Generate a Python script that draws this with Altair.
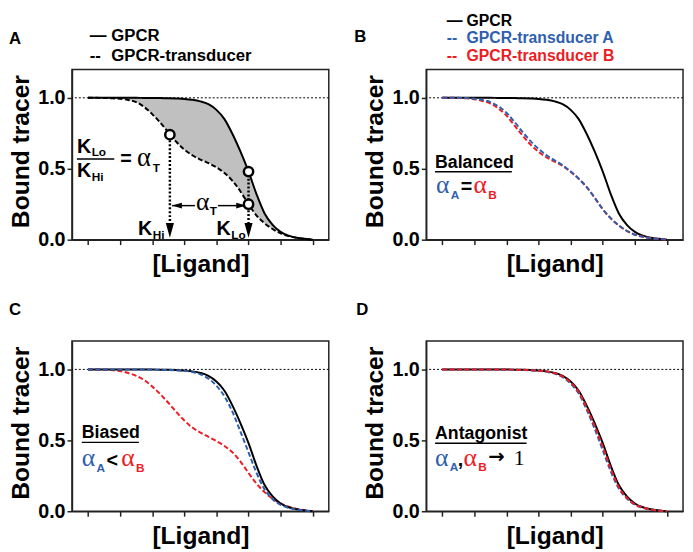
import altair as alt
import pandas as pd

# ---------------- data ----------------
LIGAND = [0, 0.25, 0.5, 0.75, 1, 1.25, 1.5, 1.75, 2, 2.25, 2.5, 2.75, 3, 3.25, 3.5,
          3.75, 4, 4.25, 4.5, 4.75, 5, 5.25, 5.5, 5.75, 6, 6.25, 6.5, 6.75, 7]

GPCR = [1.0, 1.0, 1.0, 1.0, 1.0, 1.0, 1.0, 0.999, 0.999, 0.998, 0.997, 0.995, 0.992, 0.986, 0.975,
        0.955, 0.915, 0.85, 0.745, 0.62, 0.48, 0.32, 0.185, 0.105, 0.055, 0.028, 0.014, 0.006, 0.0]

A_TRANSDUCER = [1.0, 1.0, 0.999, 0.997, 0.993, 0.985, 0.97, 0.935, 0.885, 0.825, 0.757, 0.69, 0.635, 0.595, 0.565,
                0.54, 0.51, 0.47, 0.415, 0.34, 0.25, 0.17, 0.115, 0.075, 0.045, 0.025, 0.013, 0.006, 0.0]

B_TRANS_A = [1.0, 1.0, 1.0, 0.998, 0.994, 0.985, 0.97, 0.94, 0.895, 0.83, 0.76, 0.695, 0.64, 0.595, 0.56,
             0.525, 0.48, 0.43, 0.37, 0.295, 0.215, 0.15, 0.1, 0.062, 0.035, 0.02, 0.011, 0.005, 0.0]
B_TRANS_B = [1.0, 1.0, 0.999, 0.996, 0.99, 0.978, 0.96, 0.925, 0.875, 0.805, 0.735, 0.67, 0.62, 0.58, 0.55,
             0.52, 0.478, 0.43, 0.37, 0.295, 0.215, 0.15, 0.1, 0.062, 0.035, 0.02, 0.011, 0.005, 0.0]

C_TRANS_A = [1.0, 1.0, 1.0, 1.0, 1.0, 1.0, 1.0, 0.999, 0.998, 0.997, 0.996, 0.994, 0.99, 0.982, 0.965,
             0.935, 0.885, 0.81, 0.70, 0.56, 0.415, 0.27, 0.155, 0.085, 0.045, 0.024, 0.012, 0.005, 0.0]
C_TRANS_B = [1.0, 1.0, 0.998, 0.995, 0.988, 0.975, 0.955, 0.925, 0.88, 0.825, 0.765, 0.70, 0.64, 0.59, 0.555,
             0.525, 0.495, 0.46, 0.415, 0.35, 0.27, 0.195, 0.135, 0.088, 0.055, 0.032, 0.017, 0.007, 0.0]

D_TRANS_A = [1.0, 1.0, 1.0, 1.0, 1.0, 1.0, 1.0, 0.999, 0.998, 0.997, 0.996, 0.994, 0.99, 0.983, 0.97,
             0.945, 0.9, 0.83, 0.715, 0.58, 0.43, 0.28, 0.16, 0.09, 0.046, 0.024, 0.012, 0.005, 0.0]
D_TRANS_B = [1.0, 1.0, 1.0, 1.0, 1.0, 1.0, 1.0, 0.999, 0.999, 0.998, 0.997, 0.995, 0.991, 0.985, 0.973,
             0.95, 0.908, 0.842, 0.73, 0.6, 0.455, 0.3, 0.17, 0.095, 0.048, 0.025, 0.013, 0.005, 0.0]

# K values and marked points in panel A
K_HI = 2.55
K_LO = 5.0
CIRCLE_X = [K_HI, K_LO, K_LO]
CIRCLE_Y = [0.74, 0.48, 0.25]

X_TICKS = [0, 1, 2, 3, 4, 5, 6, 7]
Y_TICKS = [0.0, 0.5, 1.0]

# ---------------- styling ----------------
FONT = "Liberation Sans"
SERIF = "Liberation Serif"
BLUE = "#2f5fae"
RED = "#ed1c24"
GRAY = "#c0c0c0"
W, H = 261, 173

xs = alt.Scale(domain=[-0.5, 7.5], nice=False, zero=False)
ys = alt.Scale(domain=[0, 1.2], nice=False, zero=False)

x_axis = alt.Axis(values=X_TICKS, labels=False, ticks=True, grid=False, title="[Ligand]",
                  titleFontSize=25, titleFontWeight="bold", titlePadding=7, domain=True)
y_axis = alt.Axis(values=Y_TICKS, format=".1f", grid=False, title="Bound tracer",
                  labelFontSize=20, labelFontWeight="bold", labelPadding=2, labelFlush=False,
                  titleFontSize=25, titleFontWeight="bold", titleAngle=270, titleBaseline="top",
                  titleAlign="center", titleX=-64, titleY=83)


def X(f="x"):
    return alt.X(f"{f}:Q", scale=xs, axis=x_axis)


def Y(f="y"):
    return alt.Y(f"{f}:Q", scale=ys, axis=y_axis)


def curve(values, color, dash=None, width=2.0):
    df = pd.DataFrame({"x": LIGAND, "y": values})
    kw = dict(interpolate="monotone", color=color, strokeWidth=width)
    if dash:
        kw["strokeDash"] = dash
    return alt.Chart(df).mark_line(**kw).encode(x=X(), y=Y())


def ref_line():
    return alt.Chart(pd.DataFrame({"y": [1.0]})).mark_rule(
        strokeDash=[2, 2], strokeWidth=1, color="black").encode(y=Y())


def txt(s, x, y, size=18, color="black", weight="bold", font=FONT, align="left", baseline="alphabetic"):
    return alt.Chart(pd.DataFrame({"t": [s]})).mark_text(
        fontSize=size, color=color, fontWeight=weight, font=font, align=align, baseline=baseline
    ).encode(x=alt.value(x), y=alt.value(y), text="t:N")


def hline(x1, x2, y, width=1.5):
    return alt.Chart(pd.DataFrame({"a": [0]})).mark_rule(color="black", strokeWidth=width).encode(
        x=alt.value(x1), x2=alt.value(x2), y=alt.value(y))


def alpha(x, y, color, sub, sub_dx=15, sub_dy=6, size=26):
    return [txt("α", x, y, size=size, color=color, weight="normal", font=SERIF),
            txt(sub, x + sub_dx, y + sub_dy, size=12, color=color)]


DASH_K = [5, 2.5]
DASH_C = [5, 2.5]

# ---------------- Panel A ----------------
area_df = pd.DataFrame({"x": LIGAND, "lo": A_TRANSDUCER, "hi": GPCR})
areaA = alt.Chart(area_df).mark_area(interpolate="monotone", color=GRAY, opacity=1).encode(
    x=X(), y=Y("lo"), y2="hi:Q")

vert_df = pd.DataFrame({"x": [K_HI, K_LO], "y1": [0.70, 0.43], "y2": [0.11, 0.11]})
vert = alt.Chart(vert_df).mark_rule(strokeDash=[2, 2], strokeWidth=2.5, color="black").encode(
    x=X(), y=Y("y1"), y2="y2:Q")
down_df = pd.DataFrame({"x": [K_HI, K_LO], "y": [0.066, 0.066]})
down_heads = alt.Chart(down_df).mark_point(
    shape="M-0.55,-1L0.55,-1L0,1Z", filled=True, color="black", size=225, opacity=1).encode(x=X(), y=Y())

horiz_df = pd.DataFrame({"x1": [2.62, 4.05], "x2": [3.33, 4.85], "y": [0.24, 0.24]})
horiz = alt.Chart(horiz_df).mark_rule(strokeWidth=1.5, color="black").encode(
    x=X("x1"), x2="x2:Q", y=Y())
lh = alt.Chart(pd.DataFrame({"x": [2.77], "y": [0.24]})).mark_point(
    shape="M1,-0.6L1,0.6L-1,0Z", filled=True, color="black", size=100, opacity=1).encode(x=X(), y=Y())
rh = alt.Chart(pd.DataFrame({"x": [4.77], "y": [0.24]})).mark_point(
    shape="M-1,-0.6L-1,0.6L1,0Z", filled=True, color="black", size=100, opacity=1).encode(x=X(), y=Y())

circ = alt.Chart(pd.DataFrame({"x": CIRCLE_X, "y": CIRCLE_Y})).mark_point(
    shape="circle", size=90, fill="white", stroke="black", strokeWidth=2.5, filled=True, opacity=1
).encode(x=X(), y=Y())

A_layers = [areaA, ref_line(), curve(GPCR, "black"), curve(A_TRANSDUCER, "black", DASH_K),
            vert, down_heads, horiz, lh, rh, circ,
            txt("A", -64, -26, size=17),
            txt("—", 18, -34, size=17, baseline="middle"),
            txt("GPCR", 40, -34, size=17, baseline="middle"),
            txt("--", 18, -14, size=17, baseline="middle"),
            txt("GPCR-transducer", 40, -14, size=17, baseline="middle"),
            # fraction K_Lo / K_Hi = alpha_T
            txt("K", 5, 85, size=20), txt("Lo", 20, 88, size=12),
            hline(5, 43, 91),
            txt("K", 5, 109, size=20), txt("Hi", 20, 113, size=12),
            txt("=", 49, 97, size=20),
            *alpha(66, 98, "black", "T", sub_dx=16, size=27),
            # arrow labels
            txt("K", 67, 168, size=20), txt("Hi", 82, 172, size=12),
            txt("K", 147, 168, size=20), txt("Lo", 162, 172, size=12),
            *alpha(126, 143, "black", "T", sub_dx=14, sub_dy=5, size=26),
            ]
A = alt.layer(*A_layers).properties(width=W, height=H)

# ---------------- Panel B ----------------
B_layers = [ref_line(), curve(GPCR, "black"), curve(B_TRANS_B, RED, DASH_C), curve(B_TRANS_A, BLUE, DASH_C),
            txt("B", -73, -28, size=17),
            txt("—", 21, -57, size=16, baseline="top"),
            txt("GPCR", 41, -57, size=16, baseline="top"),
            txt("--", 21, -39.5, size=16, color=BLUE, baseline="top"),
            txt("GPCR-transducer A", 41, -39.5, size=16, color=BLUE, baseline="top"),
            txt("--", 21, -22, size=16, color=RED, baseline="top"),
            txt("GPCR-transducer B", 41, -22, size=16, color=RED, baseline="top"),
            txt("Balanced", 9, 100, size=18), hline(9, 87, 104),
            *alpha(10, 126, BLUE, "A"),
            txt("=", 35, 126, size=20),
            *alpha(48, 126, RED, "B"),
            ]
B = alt.layer(*B_layers).properties(width=W, height=H)

# ---------------- Panel C ----------------
C_layers = [ref_line(), curve(C_TRANS_B, RED, DASH_C), curve(GPCR, "black"), curve(C_TRANS_A, BLUE, DASH_C),
            txt("C", -64, -26, size=17),
            txt("Biased", 10, 99, size=18), hline(10, 68, 103),
            *alpha(10, 127, BLUE, "A"),
            txt("<", 35, 128, size=20),
            *alpha(50, 127, RED, "B"),
            ]
C = alt.layer(*C_layers).properties(width=W, height=H)

# ---------------- Panel D ----------------
D_layers = [ref_line(), curve(GPCR, "black"), curve(D_TRANS_A, BLUE, DASH_C), curve(D_TRANS_B, RED, DASH_C),
            txt("D", -71, -26, size=17),
            txt("Antagonist", 9, 100, size=18), hline(9, 102, 104),
            *alpha(9, 127, BLUE, "A", sub_dy=5),
            txt(",", 32, 127, size=20),
            *alpha(38, 127, RED, "B", sub_dy=5),
            txt("→", 63, 124, size=20, font="DejaVu Sans"),
            txt("1", 89, 126, size=22, weight="normal", font=SERIF),
            ]
D = alt.layer(*D_layers).properties(width=W, height=H)

chart = alt.concat(A, B, C, D, columns=2, spacing={"row": 103, "column": 99}, bounds="flush").properties(
    padding=0
).configure(font=FONT).configure_view(
    stroke="#222", strokeWidth=1.5
).configure_axis(
    domainColor="#222", domainWidth=1.5, tickColor="#222", tickWidth=1.5, tickSize=5,
    labelFont=FONT, titleFont=FONT, labelColor="black", titleColor="black"
)

chart.save("out.html", embed_options={"renderer": "svg", "actions": False})
